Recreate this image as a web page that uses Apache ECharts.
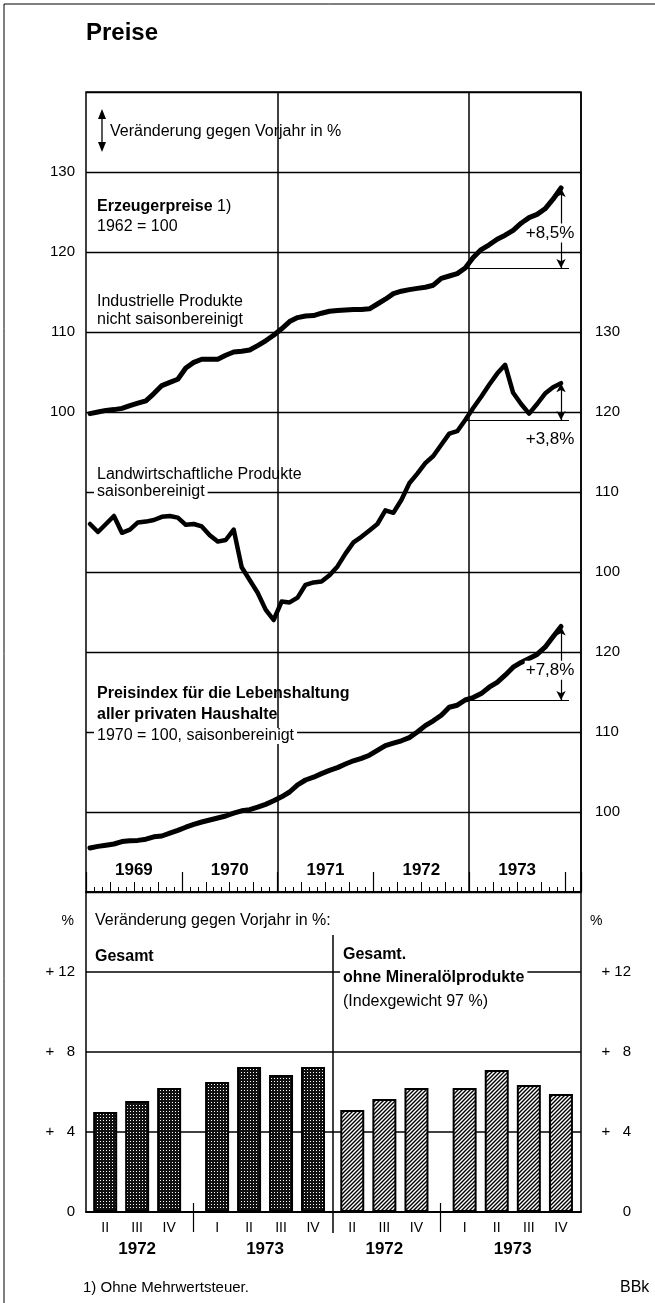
<!DOCTYPE html>
<html>
<head>
<meta charset="utf-8">
<title>Preise</title>
<script src="https://cdn.jsdelivr.net/npm/echarts@6/dist/echarts.min.js"></script>
<style>
  html, body { margin: 0; padding: 0; background: #fff; }
  #chart { width: 655px; height: 1303px; }
</style>
</head>
<body>
<div id="chart"></div>
<script>
// ---- data ----
const years = ['1969', '1970', '1971', '1972', '1973'];

// Erzeugerpreise industrieller Produkte, 1962 = 100 (monthly)
const industrial = [
  99.8, 100.0, 100.2, 100.3, 100.45, 100.8, 101.1, 101.4, 102.3, 103.3, 103.7, 104.1,
  105.5, 106.2, 106.6, 106.6, 106.6, 107.1, 107.5, 107.6, 107.75, 108.3, 108.9, 109.6,
  110.4, 111.3, 111.8, 112.0, 112.05, 112.35, 112.6, 112.7, 112.75, 112.8, 112.8, 112.9,
  113.5, 114.1, 114.8, 115.1, 115.3, 115.45, 115.6, 115.85, 116.7, 117.0, 117.3, 118.0,
  119.3, 120.3, 120.9, 121.6, 122.1, 122.7, 123.6, 124.3, 124.7, 125.4, 126.6, 128.0
];
// Erzeugerpreise landwirtschaftlicher Produkte, saisonbereinigt
const agricultural = [
  106.0, 105.0, 106.0, 107.0, 104.9, 105.3, 106.2, 106.3, 106.5, 106.9, 107.0, 106.8,
  105.9, 106.0, 105.7, 104.6, 103.8, 104.0, 105.3, 100.6, 99.0, 97.4, 95.3, 94.0,
  96.3, 96.2, 96.8, 98.4, 98.7, 98.8, 99.6, 100.7, 102.3, 103.7, 104.4, 105.2,
  106.0, 107.7, 107.4, 109.0, 111.1, 112.3, 113.6, 114.5, 115.9, 117.3, 117.6, 119.0,
  120.5, 121.9, 123.4, 124.8, 125.9, 122.4, 121.0, 119.8, 121.0, 122.3, 123.1, 123.6
];
// Preisindex für die Lebenshaltung, 1970 = 100, saisonbereinigt
const livingCost = [
  95.5, 95.7, 95.85, 96.0, 96.3, 96.4, 96.45, 96.6, 96.9, 97.0, 97.35, 97.7,
  98.1, 98.45, 98.75, 99.0, 99.25, 99.5, 99.85, 100.15, 100.3, 100.6, 100.95, 101.4,
  101.9, 102.5, 103.4, 104.0, 104.35, 104.8, 105.2, 105.55, 106.0, 106.4, 106.7, 107.1,
  107.7, 108.3, 108.6, 108.9, 109.3, 110.0, 110.8, 111.4, 112.1, 113.1, 113.35, 114.0,
  114.3, 114.8, 115.6, 116.2, 117.1, 118.1, 118.7, 119.2, 119.7, 120.6, 121.9, 123.2
];
const changeLabels = ['+8,5%', '+3,8%', '+7,8%'];

// Veränderung gegen Vorjahr in %, quarterly
const quarterLabels = ['II', 'III', 'IV', 'I', 'II', 'III', 'IV'];
const quarterYears = ['1972', '1972', '1972', '1973', '1973', '1973', '1973'];
const changeTotal = [5.0, 5.55, 6.2, 6.5, 7.25, 6.85, 7.25];
const changeExOil = [5.1, 5.65, 6.2, 6.2, 7.1, 6.35, 5.9];

// ---- derived ----
const months = [];
years.concat(['1974']).forEach(function (y) {
  for (let m = 1; m <= 12; m++) months.push(y + '-' + (m < 10 ? '0' + m : m));
});
months.length = 62; // two empty months after Dec 1973

const baseIdx = months.indexOf('1972-12');
const lastIdx = months.indexOf('1973-12');

// quarter positions: one slot per quarter, half a slot extra where the year changes
const quarterPos = [];
let p = 0;
quarterLabels.forEach(function (q, i) {
  if (i > 0 && quarterYears[i] !== quarterYears[i - 1]) p += 0.5;
  quarterPos.push(p);
  p += 1;
});
const gapPos = [];
const yearCenters = [];
const yearNames = [];
quarterYears.forEach(function (y, i) {
  if (i > 0 && y !== quarterYears[i - 1]) gapPos.push((quarterPos[i - 1] + quarterPos[i]) / 2);
  if (yearNames.indexOf(y) < 0) yearNames.push(y);
});
yearNames.forEach(function (y) {
  const ps = quarterPos.filter(function (v, i) { return quarterYears[i] === y; });
  yearCenters.push(ps.reduce(function (a, b) { return a + b; }, 0) / ps.length);
});

const FONT = '"Liberation Sans", Arial, Helvetica, sans-serif';

function dotPattern() {
  const c = document.createElement('canvas');
  c.width = 3; c.height = 3;
  const g = c.getContext('2d');
  g.fillStyle = '#111'; g.fillRect(0, 0, 3, 3);
  g.fillStyle = '#fff';
  g.fillRect(1, 1, 1, 1);
  return c;
}
function hatchPattern() {
  const c = document.createElement('canvas');
  c.width = 4; c.height = 4;
  const g = c.getContext('2d');
  g.fillStyle = '#fff'; g.fillRect(0, 0, 4, 4);
  g.strokeStyle = '#000'; g.lineWidth = 1.4;
  g.beginPath();
  g.moveTo(0, 4); g.lineTo(4, 0);
  g.moveTo(-1, 1); g.lineTo(1, -1);
  g.moveTo(3, 5); g.lineTo(5, 3);
  g.stroke();
  return c;
}

function changeMarks(values, label, offset) {
  return {
    markLine: {
      silent: true,
      animation: false,
      symbol: ['none', 'none'],
      label: { show: false },
      lineStyle: { color: '#000', width: 1.2, type: 'solid' },
      data: [
        [{ coord: [months[baseIdx], values[baseIdx]] }, { coord: [months[lastIdx + 1], values[baseIdx]] }],
        [
          { coord: [months[lastIdx], values[baseIdx]], symbol: 'arrow', symbolSize: [7, 9] },
          { coord: [months[lastIdx], values[lastIdx]], symbol: 'arrow', symbolSize: [7, 9] }
        ]
      ]
    },
    markPoint: {
      silent: true,
      animation: false,
      z: 10,
      data: [{
        coord: [months[lastIdx], offset[2] === 'mid' ? (values[baseIdx] + values[lastIdx]) / 2 : values[baseIdx]],
        symbol: 'circle',
        symbolSize: 0,
        label: {
          show: true,
          formatter: label,
          offset: [offset[0], offset[1]],
          color: '#000',
          fontFamily: FONT,
          fontSize: 17,
          backgroundColor: '#fff',
          padding: [1, 1]
        }
      }]
    }
  };
}

function lineSeries(values, yIdx, width, label, offset) {
  return Object.assign({
    type: 'line',
    xAxisIndex: 0,
    yAxisIndex: yIdx,
    data: values,
    symbol: 'none',
    z: 5,
    lineStyle: { color: '#000', width: width, cap: 'round', join: 'round' }
  }, changeMarks(values, label, offset));
}

function upperAxisLabel(lo, hi) {
  return function (v) { return v >= lo && v <= hi ? String(v) : ''; };
}
function pctLabel(v) {
  if (v === 0) return '0';
  if (v > 12) return '';
  return '+ ' + (v < 10 ? '\u2007' : '') + v;
}

function txt(x, y, text, size, weight, extra) {
  return {
    type: 'text',
    z: 50,
    style: Object.assign({
      x: x, y: y, text: text,
      font: (weight || 'normal') + ' ' + size + 'px ' + FONT,
      fill: '#000',
      verticalAlign: 'middle'
    }, extra || {})
  };
}
function ln(x1, y1, x2, y2, w) {
  return { type: 'line', z: 40, shape: { x1: x1, y1: y1, x2: x2, y2: y2 }, style: { stroke: '#000', lineWidth: w || 1.5 } };
}
const whiteBg = { backgroundColor: '#fff', padding: [0, 3] };

const chart = echarts.init(document.getElementById('chart'));

const quarterAxis = function (grid) {
  return {
    type: 'value', gridIndex: grid, min: -0.6, max: 7.125, position: 'bottom',
    axisLine: { show: true, lineStyle: { color: '#000', width: 2 } },
    axisTick: { show: true, customValues: gapPos, length: 20, lineStyle: { color: '#000', width: 1.2 } },
    axisLabel: {
      customValues: quarterPos,
      formatter: function (v) { return quarterLabels[quarterPos.indexOf(v)]; },
      margin: 9, color: '#000', fontFamily: FONT, fontSize: 14
    },
    splitLine: { show: false }
  };
};
const yearAxis = function (grid) {
  return {
    type: 'value', gridIndex: grid, min: -0.6, max: 7.125, position: 'bottom',
    axisLine: { show: false },
    axisTick: { show: true, inside: true, customValues: gapPos, length: 9, lineStyle: { color: '#000', width: 1.2 } },
    axisLabel: {
      customValues: yearCenters,
      formatter: function (v) { return yearNames[yearCenters.indexOf(v)]; },
      margin: 29, color: '#000', fontFamily: FONT, fontSize: 17, fontWeight: 'bold'
    },
    splitLine: { show: false }
  };
};
const pctAxis = function (grid, side) {
  return {
    type: 'value', gridIndex: grid, position: side, min: 0, max: 16, interval: 4,
    axisLine: { show: false }, axisTick: { show: false },
    splitLine: { show: true, lineStyle: { color: '#000', width: 1.5 } },
    axisLabel: {
      formatter: pctLabel, color: '#000', fontFamily: FONT, fontSize: 15,
      align: 'right', margin: side === 'left' ? 11 : 50
    }
  };
};

const option = {
  animation: false,
  backgroundColor: '#fff',
  grid: [
    { left: 86, top: 92, width: 495, height: 800, show: true, borderColor: '#000', borderWidth: 1.5 },
    { left: 86, top: 892, width: 247, height: 320 },
    { left: 333, top: 892, width: 248, height: 320 }
  ],
  xAxis: [
    {
      type: 'category', gridIndex: 0, data: months, boundaryGap: true, position: 'bottom',
      axisLine: { show: true, lineStyle: { color: '#000', width: 1.5 } },
      axisTick: { show: true, inside: true, interval: 0, length: 5, lineStyle: { color: '#000', width: 1 } },
      axisLabel: {
        inside: true, margin: 13,
        interval: function (i) { return i % 12 === 5 && i < 60; },
        formatter: function (v) { return '{y|' + v.slice(0, 4) + '}'; },
        rich: { y: { fontFamily: FONT, fontSize: 17, fontWeight: 'bold', color: '#000', padding: [0, 0, 0, 8] } }
      },
      splitLine: {
        show: true,
        interval: function (i) { return i === 24 || i === 48; },
        lineStyle: { color: '#000', width: 1.5 }
      }
    },
    {
      type: 'category', gridIndex: 0, data: months, boundaryGap: true, position: 'bottom',
      axisLine: { show: false },
      axisTick: { show: true, inside: true, interval: function (i) { return i % 3 === 0; }, length: 10, lineStyle: { color: '#000', width: 1 } },
      axisLabel: { show: false }, splitLine: { show: false }
    },
    {
      type: 'category', gridIndex: 0, data: months, boundaryGap: true, position: 'bottom',
      axisLine: { show: false },
      axisTick: { show: true, inside: true, interval: function (i) { return i % 12 === 0; }, length: 20, lineStyle: { color: '#000', width: 1.2 } },
      axisLabel: { show: false }, splitLine: { show: false }
    },
    quarterAxis(1), yearAxis(1),
    quarterAxis(2), yearAxis(2)
  ],
  yAxis: [
    {
      type: 'value', gridIndex: 0, position: 'left', min: 40, max: 140, interval: 10,
      axisLine: { show: false }, axisTick: { show: false },
      splitLine: { show: true, lineStyle: { color: '#000', width: 1.3 } },
      axisLabel: { formatter: upperAxisLabel(100, 130), margin: 11, color: '#000', fontFamily: FONT, fontSize: 15 }
    },
    {
      type: 'value', gridIndex: 0, position: 'right', min: 60, max: 160, interval: 10,
      axisLine: { show: false }, axisTick: { show: false }, splitLine: { show: false },
      axisLabel: { formatter: upperAxisLabel(100, 130), margin: 14, color: '#000', fontFamily: FONT, fontSize: 15 }
    },
    {
      type: 'value', gridIndex: 0, position: 'right', min: 90, max: 190, interval: 10,
      axisLine: { show: false }, axisTick: { show: false }, splitLine: { show: false },
      axisLabel: { formatter: upperAxisLabel(100, 120), margin: 14, color: '#000', fontFamily: FONT, fontSize: 15 }
    },
    pctAxis(1, 'left'),
    pctAxis(2, 'right')
  ],
  series: [
    lineSeries(industrial, 0, 5, changeLabels[0], [-11, 5, 'mid']),
    lineSeries(agricultural, 1, 4.5, changeLabels[1], [-11, 19, 'base']),
    lineSeries(livingCost, 2, 5, changeLabels[2], [-11, 7, 'mid']),
    {
      type: 'bar', xAxisIndex: 3, yAxisIndex: 3, barWidth: 24,
      data: changeTotal.map(function (v, i) { return [quarterPos[i], v]; }),
      itemStyle: { color: { image: dotPattern(), repeat: 'repeat' }, borderColor: '#000', borderWidth: 2 }
    },
    {
      type: 'bar', xAxisIndex: 5, yAxisIndex: 4, barWidth: 24,
      data: changeExOil.map(function (v, i) { return [quarterPos[i], v]; }),
      itemStyle: { color: { image: hatchPattern(), repeat: 'repeat' }, borderColor: '#000', borderWidth: 2 }
    }
  ],
  graphic: [
    // page frame
    ln(4, 4, 655, 4, 1), ln(4, 4, 4, 1303, 1),
    txt(86, 33, 'Preise', 24, 'bold'),
    // legend arrow
    ln(102, 114, 102, 147, 1.3),
    { type: 'polygon', z: 40, shape: { points: [[98, 119], [102, 109], [106, 119]] }, style: { fill: '#000' } },
    { type: 'polygon', z: 40, shape: { points: [[98, 142], [102, 152], [106, 142]] }, style: { fill: '#000' } },
    txt(110, 132, 'Veränderung gegen Vorjahr in %', 16),
    txt(97, 207, '{b|Erzeugerpreise} 1)', 16, 'normal', { rich: { b: { font: 'bold 16px ' + FONT } } }),
    txt(97, 227, '1962 = 100', 16),
    txt(97, 302, 'Industrielle Produkte', 16),
    txt(97, 320, 'nicht saisonbereinigt', 16),
    txt(97, 475, 'Landwirtschaftliche Produkte', 16),
    txt(94, 492, 'saisonbereinigt', 16, 'normal', whiteBg),
    txt(97, 694, 'Preisindex für die Lebenshaltung', 16, 'bold'),
    txt(97, 715, 'aller privaten Haushalte', 16, 'bold'),
    txt(94, 736, '1970 = 100, saisonbereinigt', 16, 'normal', whiteBg),
    // lower panel frame
    ln(86, 892, 86, 1212), ln(581, 892, 581, 1212), ln(333, 935, 333, 1233),
    txt(74, 921, '%', 14, 'normal', { align: 'right' }),
    txt(590, 921, '%', 14),
    txt(95, 921, 'Veränderung gegen Vorjahr in %:', 16),
    txt(95, 957, 'Gesamt', 16, 'bold'),
    txt(343, 955, 'Gesamt.', 16, 'bold'),
    txt(340, 978, 'ohne Mineralölprodukte', 16, 'bold', whiteBg),
    txt(343, 1002, '(Indexgewicht 97 %)', 16),
    txt(83, 1288, '1) Ohne Mehrwertsteuer.', 15),
    txt(620, 1288, 'BBk', 16)
  ]
};

chart.setOption(option);
window.addEventListener('resize', function () { chart.resize(); });
</script>
</body>
</html>
